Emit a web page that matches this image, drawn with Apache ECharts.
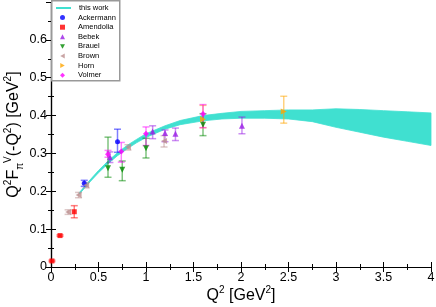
<!DOCTYPE html>
<html>
<head>
<meta charset="utf-8">
<script src="https://cdn.jsdelivr.net/npm/echarts@6/dist/echarts.min.js"></script>
<style>
html,body{margin:0;padding:0;background:#fff;}
#chart{width:436px;height:307px;}
</style>
</head>
<body>
<div id="chart"></div>
<script>
// ---- data ----
const xTicks = [0, 0.5, 1, 1.5, 2, 2.5, 3, 3.5, 4];
const yTicks = [0, 0.1, 0.2, 0.3, 0.4, 0.5, 0.6];

// "this work" band: Q2, lower edge, upper edge
const bandQ2 = [0.30, 0.40, 0.50, 0.60, 0.70, 0.80, 0.90, 1.00, 1.20, 1.36, 1.60, 1.80, 2.00, 2.25, 2.50, 2.75, 3.00, 3.25, 3.50, 3.75, 4.00];
const bandLo = [0.193, 0.222, 0.249, 0.273, 0.294, 0.312, 0.328, 0.342, 0.364, 0.376, 0.386, 0.391, 0.393, 0.393, 0.391, 0.384, 0.369, 0.356, 0.343, 0.332, 0.321];
const bandHi = [0.197, 0.227, 0.255, 0.280, 0.302, 0.321, 0.337, 0.352, 0.373, 0.387, 0.400, 0.406, 0.411, 0.413, 0.415, 0.415, 0.418, 0.416, 0.413, 0.410, 0.407];

// experimental points: Q2, value, error low, error high
const ackQ2 = [0.35, 0.70];
const ackVal = [0.221, 0.331];
const ackLo = [0.213, 0.303];
const ackHi = [0.229, 0.364];

const ameQ2 = [0.01, 0.095, 0.245];
const ameVal = [0.016, 0.083, 0.146];
const ameLo = [0.014, 0.081, 0.130];
const ameHi = [0.018, 0.085, 0.162];

const bebQ2 = [0.62, 1.07, 1.20, 1.31, 2.01];
const bebVal = [0.290, 0.358, 0.354, 0.352, 0.373];
const bebLo = [0.276, 0.339, 0.331, 0.334, 0.352];
const bebHi = [0.304, 0.373, 0.362, 0.367, 0.396];

const braQ2 = [0.60, 0.75, 1.00, 1.60];
const braVal = [0.261, 0.257, 0.314, 0.376];
const braLo = [0.237, 0.228, 0.288, 0.347];
const braHi = [0.343, 0.280, 0.340, 0.405];

const broQ2 = [0.18, 0.29, 0.37, 0.81, 1.19];
const broVal = [0.145, 0.190, 0.216, 0.316, 0.333];
const broLo = [0.139, 0.183, 0.209, 0.309, 0.317];
const broHi = [0.151, 0.197, 0.223, 0.323, 0.347];

const horQ2 = [1.60, 2.45];
const horVal = [0.390, 0.411];
const horLo = [0.368, 0.380];
const horHi = [0.427, 0.451];

const volQ2 = [0.60, 0.74, 1.00, 1.60];
const volVal = [0.298, 0.305, 0.352, 0.404];
const volLo = [0.290, 0.277, 0.321, 0.368];
const volHi = [0.308, 0.329, 0.370, 0.429];

// ---- chart ----
const FONT = 'Liberation Sans';
const TRI_DOWN = 'path://M0,0 L10,0 L5,9 Z';
const TRI_LEFT = 'path://M9,0 L9,10 L0,5 Z';
const TRI_RIGHT = 'path://M0,0 L0,10 L9,5 Z';
const datasets = [
  {name: 'Ackermann', q: ackQ2, v: ackVal, lo: ackLo, hi: ackHi, color: '#0000ff', symbol: 'circle', size: 5, rot: 0, icon: 'circle'},
  {name: 'Amendolia', q: ameQ2, v: ameVal, lo: ameLo, hi: ameHi, color: '#ff0000', symbol: 'rect', size: 5, rot: 0, icon: 'rect'},
  {name: 'Bebek', q: bebQ2, v: bebVal, lo: bebLo, hi: bebHi, color: '#9a1ee6', symbol: 'triangle', size: 6, rot: 0, icon: 'triangle'},
  {name: 'Brauel', q: braQ2, v: braVal, lo: braLo, hi: braHi, color: '#008a00', symbol: 'triangle', size: 6, rot: 180, icon: TRI_DOWN},
  {name: 'Brown', q: broQ2, v: broVal, lo: broLo, hi: broHi, color: '#bc8f8f', symbol: 'triangle', size: 6, rot: 90, icon: TRI_LEFT},
  {name: 'Horn', q: horQ2, v: horVal, lo: horLo, hi: horHi, color: '#ffa500', symbol: 'triangle', size: 6, rot: -90, icon: TRI_RIGHT},
  {name: 'Volmer', q: volQ2, v: volVal, lo: volLo, hi: volHi, color: '#ff00ff', symbol: 'diamond', size: 6, rot: 0, icon: 'diamond'}
];

function errRender(color) {
  return function (params, api) {
    const x = api.value(0);
    const top = api.coord([x, api.value(2)]);
    const bot = api.coord([x, api.value(1)]);
    const w = 3.5;
    const st = {stroke: color, lineWidth: 1.5, opacity: 0.5};
    return {type: 'group', children: [
      {type: 'line', shape: {x1: top[0], y1: top[1], x2: bot[0], y2: bot[1]}, style: st},
      {type: 'line', shape: {x1: top[0] - w, y1: top[1], x2: top[0] + w, y2: top[1]}, style: st},
      {type: 'line', shape: {x1: bot[0] - w, y1: bot[1], x2: bot[0] + w, y2: bot[1]}, style: st}
    ]};
  };
}

const series = [];
// band
series.push({
  name: 'band', type: 'custom', xAxisIndex: 0, yAxisIndex: 0, z: 1,
  data: bandQ2.map((q, i) => [q, bandLo[i], bandHi[i]]),
  encode: {x: 0, y: [1, 2]},
  silent: true,
  renderItem: function (params, api) {
    if (params.dataIndex !== 0) return null;
    const pts = [];
    for (let i = 0; i < bandQ2.length; i++) pts.push(api.coord([bandQ2[i], bandHi[i]]));
    for (let i = bandQ2.length - 1; i >= 0; i--) pts.push(api.coord([bandQ2[i], bandLo[i]]));
    return {type: 'polygon', shape: {points: pts, smooth: 0}, style: {fill: '#40e0d0', stroke: '#40e0d0', lineWidth: 0.8}};
  }
});
// legend entry for band
series.push({name: 'this work', type: 'line', data: [], symbol: 'none', showSymbol: false, color: '#40e0d0', lineStyle: {color: '#40e0d0', width: 2}});

datasets.forEach(d => {
  series.push({
    name: d.name + ' err', type: 'custom', z: 3, silent: true,
    data: d.q.map((q, i) => [q, d.lo[i], d.hi[i]]),
    encode: {x: 0, y: [1, 2]},
    renderItem: errRender(d.color)
  });
});
datasets.forEach(d => {
  series.push({
    name: d.name, type: 'scatter', z: 4,
    symbol: d.symbol, symbolSize: d.size, symbolRotate: d.rot, symbolKeepAspect: true,
    itemStyle: {color: d.color},
    data: d.q.map((q, i) => [q, d.v[i]])
  });
});

const legendText = {fontSize: 7.5, color: '#000', fontFamily: FONT};
const axisLineStyle = {lineStyle: {color: '#000', width: 1.2}};
const chart = echarts.init(document.getElementById('chart'), null, {renderer: 'canvas'});
chart.setOption({
  animation: false,
  backgroundColor: '#fff',
  textStyle: {fontFamily: FONT},
  grid: {left: 51, right: 5, top: 2, bottom: 40, containLabel: false, outerBoundsMode: 'none'},
  graphic: [{
    type: 'rect', left: 51, top: 0, z: 50,
    shape: {width: 68, height: 80},
    style: {fill: '#fff', stroke: '#999', lineWidth: 1.5}
  }],
  legend: [
    {
      orient: 'vertical', left: 51, top: 0, z: 60,
      padding: [4, 4, 0, 4],
      itemWidth: 15, itemHeight: 5,
      textStyle: Object.assign({padding: [0, 0, 0, 3]}, legendText),
      data: [{name: 'this work', itemStyle: {color: 'rgba(0,0,0,0)', borderWidth: 0, opacity: 0}}],
      selectedMode: false
    },
    {
      orient: 'vertical', left: 56, top: 9.6, z: 60,
      padding: [4, 4, 4, 4],
      itemWidth: 5, itemHeight: 5, itemGap: 1.6,
      symbolKeepAspect: true,
      textStyle: Object.assign({padding: [0, 0, 0, 8]}, legendText),
      data: datasets.map(d => ({name: d.name, icon: d.icon})),
      selectedMode: false
    }
  ],
  xAxis: [
    {
      type: 'value', min: xTicks[0], max: xTicks[xTicks.length - 1], interval: 0.5,
      position: 'bottom',
      axisLine: axisLineStyle,
      axisTick: {show: true, inside: true, length: 5, lineStyle: {color: '#000'}},
      minorTick: {show: true, splitNumber: 2, length: 3, lineStyle: {color: '#000'}},
      splitLine: {show: false},
      axisLabel: {color: '#000', fontSize: 12.5, fontFamily: FONT, margin: 4},
      name: 'Q{sup|2} [GeV{sup|2}]', nameLocation: 'middle', nameGap: 18, nameMoveOverlap: false,
      nameTextStyle: {color: '#000', fontSize: 16, fontFamily: FONT, lineHeight: 22,
        rich: {sup: {fontSize: 10, fontFamily: FONT, color: '#000', verticalAlign: 'top', lineHeight: 11}}}
    },
    {
      type: 'value', min: xTicks[0], max: xTicks[xTicks.length - 1], interval: 0.5,
      position: 'top',
      axisLine: axisLineStyle,
      axisTick: {show: true, inside: true, length: 5, lineStyle: {color: '#000'}},
      minorTick: {show: true, splitNumber: 2, length: 3, lineStyle: {color: '#000'}},
      splitLine: {show: false},
      axisLabel: {show: false}
    }
  ],
  yAxis: [
    {
      type: 'value', min: 0, max: 0.7, interval: 0.1,
      position: 'left',
      axisLine: axisLineStyle,
      axisTick: {show: true, inside: true, length: 5, lineStyle: {color: '#000'}},
      minorTick: {show: true, splitNumber: 2, length: 3, lineStyle: {color: '#000'}},
      splitLine: {show: false},
      axisLabel: {color: '#000', fontSize: 12.5, fontFamily: FONT, margin: 4,
        formatter: function (v) {
          const r = Math.round(v * 10) / 10;
          return yTicks.indexOf(r) >= 0 ? String(r) : '';
        }},
      name: 'Q{sup|2}F{sub|π}{sup|V}(-Q{sup|2}) [GeV{sup|2}]', nameLocation: 'middle', nameGap: 26, nameRotate: 90, nameMoveOverlap: false,
      nameTextStyle: {color: '#000', fontSize: 16, fontFamily: FONT, lineHeight: 22,
        rich: {
          sup: {fontSize: 10, fontFamily: FONT, color: '#000', verticalAlign: 'top', lineHeight: 11},
          sub: {fontSize: 10, fontFamily: FONT, color: '#000', verticalAlign: 'bottom', lineHeight: 11}
        }}
    },
    {
      type: 'value', min: 0, max: 0.7, interval: 0.1,
      position: 'right',
      axisLine: axisLineStyle,
      axisTick: {show: true, inside: true, length: 5, lineStyle: {color: '#000'}},
      minorTick: {show: true, splitNumber: 2, length: 3, lineStyle: {color: '#000'}},
      splitLine: {show: false},
      axisLabel: {show: false}
    }
  ],
  series: series
});
</script>
</body>
</html>
